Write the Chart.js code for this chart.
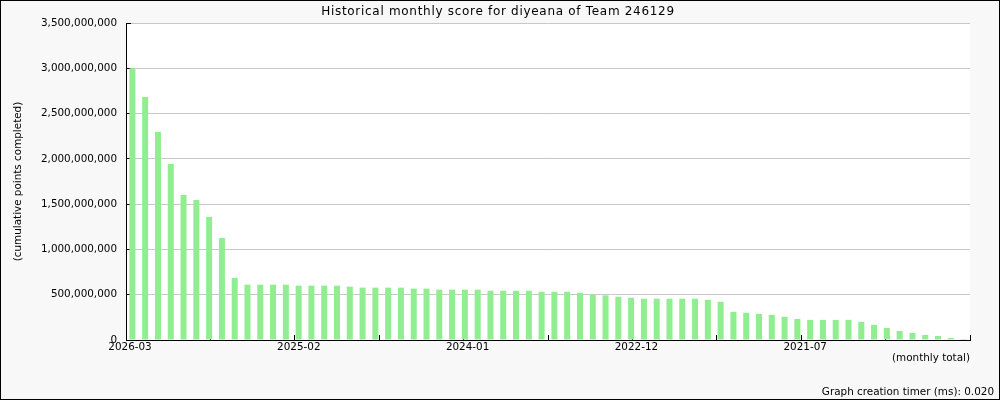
<!DOCTYPE html>
<html><head><meta charset="utf-8">
<script src="https://cdn.jsdelivr.net/npm/chart.js@4"></script>
<style>html,body{margin:0;padding:0;background:#f8f8f8}</style>
</head><body>
<canvas id="c" width="1000" height="400"></canvas>
<script>
const titleText = 'Historical monthly score for diyeana of Team 246129';
const yAxisTitle = '(cumulative points completed)';
const xAxisTitle = '(monthly total)';
const footerText = 'Graph creation timer (ms): 0.020';

const months = [
  '2026-03','2026-02','2026-01','2025-12','2025-11','2025-10','2025-09','2025-08','2025-07','2025-06',
  '2025-05','2025-04','2025-03','2025-02','2025-01','2024-12','2024-11','2024-10','2024-09','2024-08',
  '2024-07','2024-06','2024-05','2024-04','2024-03','2024-02','2024-01','2023-12','2023-11','2023-10',
  '2023-09','2023-08','2023-07','2023-06','2023-05','2023-04','2023-03','2023-02','2023-01','2022-12',
  '2022-11','2022-10','2022-09','2022-08','2022-07','2022-06','2022-05','2021-12','2021-11','2021-10',
  '2021-09','2021-08','2021-07','2021-06','2021-05','2021-04','2021-03','2021-02','2021-01','2020-12',
  '2020-11','2020-10','2020-09','2020-08','2020-07','2020-06'
];

const scores = [
  3000000000, 2684000000, 2297000000, 1944000000, 1602000000, 1546000000, 1359000000, 1127000000, 686000000, 611000000,
  611000000, 611000000, 611000000, 600000000, 600000000, 600000000, 600000000, 589000000, 578000000, 578000000,
  578000000, 578000000, 567000000, 567000000, 556000000, 556000000, 556000000, 556000000, 544000000, 544000000,
  544000000, 544000000, 533000000, 533000000, 533000000, 522000000, 499000000, 493000000, 478000000, 467000000,
  456000000, 456000000, 456000000, 456000000, 456000000, 444000000, 422000000, 311000000, 300000000, 289000000,
  278000000, 256000000, 233000000, 222000000, 222000000, 222000000, 222000000, 200000000, 167000000, 133000000,
  100000000, 78000000, 56000000, 44000000, 22000000, 11000000
];

const yMin = 0;
const yMax = 3500000000;
const yStep = 500000000;
const xDivisions = 10;

const FONT = {family: 'DejaVu Sans', size: 10.4};

const frame = {
  id: 'frame',
  beforeDraw(chart) {
    const {ctx, chartArea: a} = chart;
    ctx.save();
    ctx.fillStyle = '#f8f8f8';
    ctx.fillRect(0, 0, chart.width, chart.height);
    ctx.fillStyle = '#ffffff';
    ctx.fillRect(a.left, a.top, a.right - a.left, a.bottom - a.top);
    ctx.restore();
  },
  afterDraw(chart) {
    const {ctx} = chart;
    ctx.save();
    ctx.strokeStyle = '#000';
    ctx.lineWidth = 1;
    ctx.strokeRect(0.5, 0.5, chart.width - 1, chart.height - 1);
    ctx.fillStyle = '#000';
    ctx.textBaseline = 'alphabetic';
    ctx.font = '12px "DejaVu Sans"';
    if ('letterSpacing' in ctx) ctx.letterSpacing = '0.7px';
    ctx.textAlign = 'left';
    const w = ctx.measureText(titleText).width;
    ctx.fillText(titleText, 498 - w / 2, 14.5);
    if ('letterSpacing' in ctx) ctx.letterSpacing = '0px';
    ctx.font = '10.4px "DejaVu Sans"';
    ctx.textAlign = 'right';
    ctx.fillText(footerText, 994, 395);
    ctx.restore();
  }
};

new Chart(document.getElementById('c'), {
  type: 'bar',
  data: {
    labels: months,
    datasets: [{
      data: scores,
      backgroundColor: '#90ee90',
      borderWidth: 0,
      barPercentage: 0.47,
      categoryPercentage: 1,
      xAxisID: 'x',
      yAxisID: 'y'
    }]
  },
  options: {
    responsive: false,
    animation: false,
    devicePixelRatio: 1,
    layout: {padding: {top: 23, right: 30, bottom: 0, left: 0}},
    plugins: {legend: {display: false}, title: {display: false}, tooltip: {enabled: false}},
    scales: {
      x: {type: 'category', display: false, offset: true, grid: {display: false}},
      xt: {
        type: 'linear', position: 'bottom', min: 0, max: xDivisions, offset: false,
        afterFit(s) { s.height = 60; },
        ticks: {
          stepSize: 1, autoSkip: false, maxRotation: 0, minRotation: 0,
          padding: 6, labelOffset: 4, color: '#000', font: FONT,
          callback(v) {
            if (Math.round(v) % 2 !== 0) return '';
            const idx = Math.floor(v * months.length / xDivisions + 1e-9);
            return months[idx] || '';
          }
        },
        grid: {drawOnChartArea: false, offset: false, tickLength: -5, tickColor: '#000', tickWidth: 1},
        border: {color: '#000', width: 1},
        title: {display: true, text: xAxisTitle, align: 'end', color: '#000', font: FONT, padding: {top: 0, bottom: 35}}
      },
      y: {
        min: yMin, max: yMax,
        afterFit(s) { s.width = 126; },
        ticks: {
          stepSize: yStep, padding: 14, color: '#000', font: FONT,
          callback(v) { return Number(v).toLocaleString('en-US'); }
        },
        grid: {color: '#c8c8c8', tickColor: '#000', tickLength: -5},
        border: {color: '#000', width: 1},
        title: {display: true, text: yAxisTitle, color: '#000', font: FONT, padding: {top: 12, bottom: 0}}
      }
    }
  },
  plugins: [frame]
});
</script>
</body></html>
